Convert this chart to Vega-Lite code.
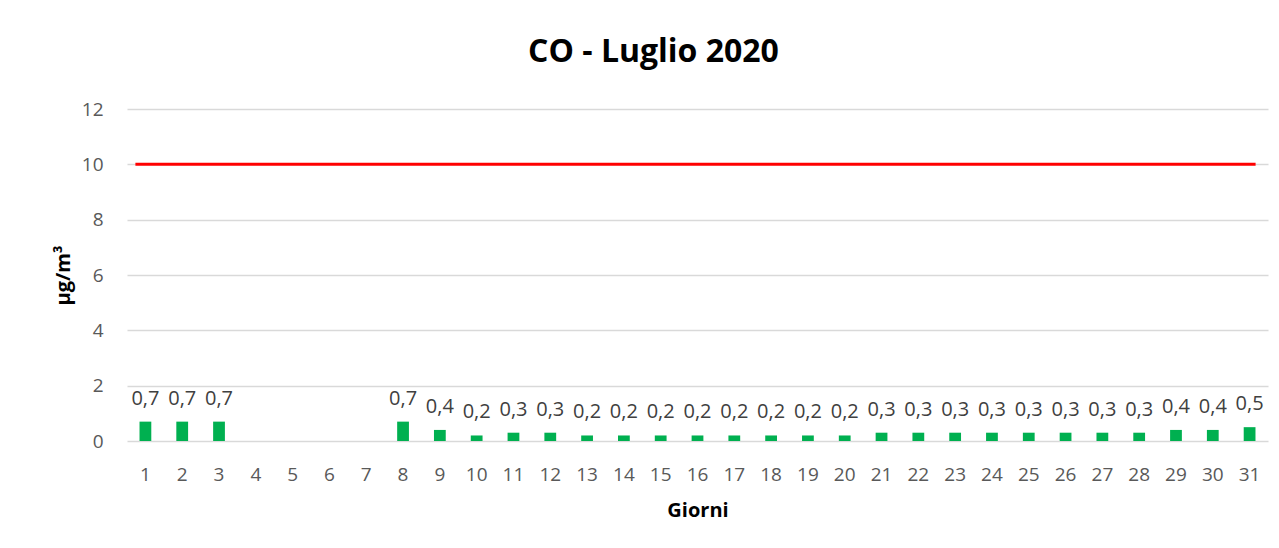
{
  "$schema": "https://vega.github.io/schema/vega-lite/v6.json",
  "width": 1141,
  "height": 332,
  "autosize": "none",
  "padding": {"left": 127, "top": 109, "right": 11, "bottom": 107},
  "background": "white",
  "config": {
    "view": {"stroke": null},
    "font": "Open Sans",
    "locale": {"number": {"decimal": ",", "thousands": ".", "grouping": [3], "currency": ["€", ""]}}
  },
  "title": {
    "text": "CO - Luglio 2020",
    "fontSize": 32,
    "fontWeight": "bold",
    "color": "#000000",
    "font": "Open Sans",
    "anchor": "middle",
    "offset": 31,
    "dx": -44
  },
  "datasets": {
    "co": [
      {"giorno": 1, "valore": 0.7},
      {"giorno": 2, "valore": 0.7},
      {"giorno": 3, "valore": 0.7},
      {"giorno": 8, "valore": 0.7},
      {"giorno": 9, "valore": 0.4},
      {"giorno": 10, "valore": 0.2},
      {"giorno": 11, "valore": 0.3},
      {"giorno": 12, "valore": 0.3},
      {"giorno": 13, "valore": 0.2},
      {"giorno": 14, "valore": 0.2},
      {"giorno": 15, "valore": 0.2},
      {"giorno": 16, "valore": 0.2},
      {"giorno": 17, "valore": 0.2},
      {"giorno": 18, "valore": 0.2},
      {"giorno": 19, "valore": 0.2},
      {"giorno": 20, "valore": 0.2},
      {"giorno": 21, "valore": 0.3},
      {"giorno": 22, "valore": 0.3},
      {"giorno": 23, "valore": 0.3},
      {"giorno": 24, "valore": 0.3},
      {"giorno": 25, "valore": 0.3},
      {"giorno": 26, "valore": 0.3},
      {"giorno": 27, "valore": 0.3},
      {"giorno": 28, "valore": 0.3},
      {"giorno": 29, "valore": 0.4},
      {"giorno": 30, "valore": 0.4},
      {"giorno": 31, "valore": 0.5}
    ],
    "limite": [
      {"inizio": 1, "fine": 31, "limite": 10}
    ]
  },
  "layer": [
    {
      "data": {"name": "co"},
      "mark": {"type": "bar", "color": "#00B050"},
      "encoding": {
        "x": {
          "field": "giorno",
          "type": "ordinal",
          "scale": {"domain": [1,2,3,4,5,6,7,8,9,10,11,12,13,14,15,16,17,18,19,20,21,22,23,24,25,26,27,28,29,30,31], "paddingInner": 0.68, "paddingOuter": 0.34},
          "axis": {
            "title": "Giorni",
            "titleFont": "Open Sans",
            "titleFontSize": 20,
            "titleFontWeight": "bold",
            "titleColor": "#000000",
            "titlePadding": 16,
            "labelAngle": 0,
            "labelFont": "Open Sans",
            "labelFontSize": 19,
            "labelColor": "#595959",
            "labelPadding": 24,
            "domain": false,
            "ticks": false,
            "grid": false
          }
        },
        "y": {
          "field": "valore",
          "type": "quantitative",
          "scale": {"domain": [0, 12], "nice": false},
          "axis": {
            "title": "µg/m³",
            "titleFont": "Open Sans",
            "titleFontSize": 20,
            "titleFontWeight": "bold",
            "titleColor": "#000000",
            "titlePadding": 8,
            "values": [0, 2, 4, 6, 8, 10, 12],
            "labelFont": "Open Sans",
            "labelFontSize": 19,
            "labelColor": "#595959",
            "labelPadding": 24,
            "domain": false,
            "ticks": false,
            "grid": true,
            "gridColor": "#D9D9D9",
            "gridWidth": 1.3
          }
        }
      }
    },
    {
      "data": {"name": "co"},
      "mark": {"type": "text", "baseline": "alphabetic", "dy": -17, "fontSize": 20, "color": "#404040", "font": "Open Sans"},
      "encoding": {
        "x": {"field": "giorno", "type": "ordinal"},
        "y": {"field": "valore", "type": "quantitative"},
        "text": {"field": "valore", "type": "quantitative", "format": ".1f"}
      }
    },
    {
      "data": {"name": "limite"},
      "mark": {"type": "rule", "color": "#FF0000", "strokeWidth": 3, "xOffset": -10, "x2Offset": 6},
      "encoding": {
        "x": {"field": "inizio", "type": "ordinal"},
        "x2": {"field": "fine"},
        "y": {"field": "limite", "type": "quantitative"}
      }
    }
  ]
}
